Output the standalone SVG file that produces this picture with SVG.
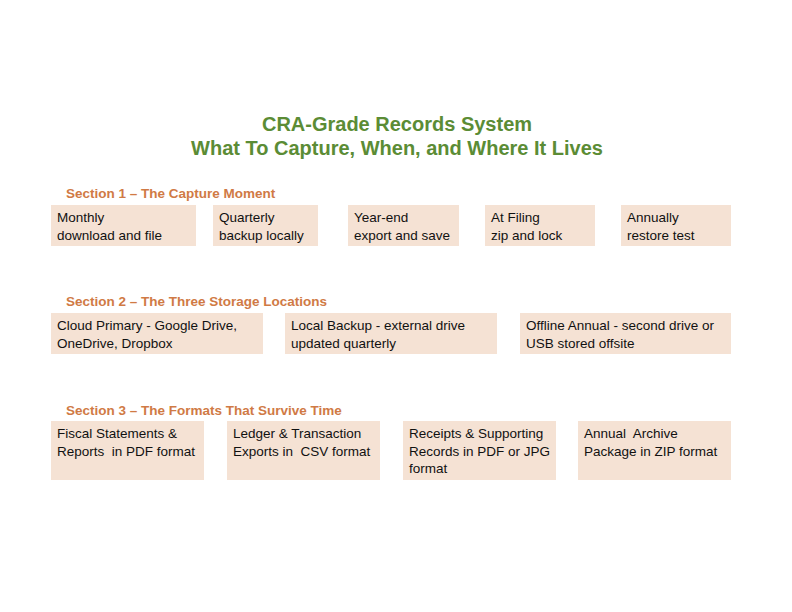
<svg xmlns="http://www.w3.org/2000/svg" width="792" height="612" viewBox="0 0 792 612">
<style>
.t{font-family:"Liberation Sans",Arial,sans-serif;font-weight:bold;font-size:20px;fill:#5B8C35;text-anchor:middle}
.s{font-family:"Liberation Sans",Arial,sans-serif;font-weight:bold;font-size:13.5px;fill:#D07A45}
.b{fill:#F5E2D4}
.x{font-family:"Liberation Sans",Arial,sans-serif;font-size:13.5px;fill:#111;white-space:pre}
</style>
<rect width="792" height="612" fill="#fff"/>
<text class="t" x="397" y="131">CRA-Grade Records System</text>
<text class="t" x="397" y="155">What To Capture, When, and Where It Lives</text>
<text class="s" x="66" y="198">Section 1 – The Capture Moment</text>
<text class="s" x="66" y="306">Section 2 – The Three Storage Locations</text>
<text class="s" x="66" y="415">Section 3 – The Formats That Survive Time</text>
<g id="n1"><rect class="b" x="51" y="205" width="145" height="41"/><text class="x" x="57" y="222">Monthly</text><text class="x" x="57" y="240">download and file</text></g>
<g id="n2"><rect class="b" x="213" y="205" width="105" height="41"/><text class="x" x="219" y="222">Quarterly</text><text class="x" x="219" y="240">backup locally</text></g>
<g id="n3"><rect class="b" x="348" y="205" width="111" height="41"/><text class="x" x="354" y="222">Year-end</text><text class="x" x="354" y="240">export and save</text></g>
<g id="n4"><rect class="b" x="485" y="205" width="110" height="41"/><text class="x" x="491" y="222">At Filing</text><text class="x" x="491" y="240">zip and lock</text></g>
<g id="n5"><rect class="b" x="621" y="205" width="110" height="41"/><text class="x" x="627" y="222">Annually</text><text class="x" x="627" y="240">restore test</text></g>
<g id="n6"><rect class="b" x="51" y="313" width="212" height="41"/><text class="x" x="57" y="330">Cloud Primary - Google Drive,</text><text class="x" x="57" y="348">OneDrive, Dropbox</text></g>
<g id="n7"><rect class="b" x="285" y="313" width="212" height="41"/><text class="x" x="291" y="330">Local Backup - external drive</text><text class="x" x="291" y="348">updated quarterly</text></g>
<g id="n8"><rect class="b" x="520" y="313" width="211" height="41"/><text class="x" x="526" y="330">Offline Annual - second drive or</text><text class="x" x="526" y="348">USB stored offsite</text></g>
<g id="n9"><rect class="b" x="51" y="421" width="153" height="59"/><text class="x" x="57" y="438">Fiscal Statements &amp;</text><text class="x" x="57" y="456">Reports  in PDF format</text></g>
<g id="n10"><rect class="b" x="227" y="421" width="153" height="59"/><text class="x" x="233" y="438">Ledger &amp; Transaction</text><text class="x" x="233" y="456">Exports in  CSV format</text></g>
<g id="n11"><rect class="b" x="403" y="421" width="153" height="59"/><text class="x" x="409" y="438">Receipts &amp; Supporting</text><text class="x" x="409" y="456">Records in PDF or JPG</text><text class="x" x="409" y="473">format</text></g>
<g id="n12"><rect class="b" x="578" y="421" width="153" height="59"/><text class="x" x="584" y="438">Annual  Archive</text><text class="x" x="584" y="456">Package in ZIP format</text></g>
<g id="connectors"/>
</svg>
